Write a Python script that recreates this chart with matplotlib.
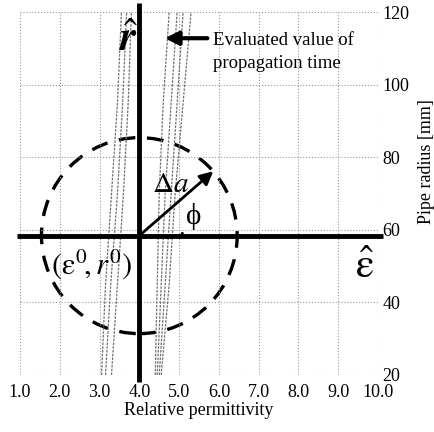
import numpy as np
import matplotlib
matplotlib.use('Agg')
import matplotlib.pyplot as plt
from matplotlib.patches import Ellipse, Arc

plt.rcParams['font.family'] = ['Liberation Serif', 'DejaVu Serif']
plt.rcParams['mathtext.fontset'] = 'stix'

# axis ticks
x_ticks = [1.0, 2.0, 3.0, 4.0, 5.0, 6.0, 7.0, 8.0, 9.0, 10.0]
y_ticks = [20, 40, 60, 80, 100, 120]

# contour lines of evaluated propagation time (eps at each radius)
r_pts = [20, 45, 70, 95, 120]
left_lines = [
    [3.05, 3.15, 3.30, 3.45, 3.55],
    [3.15, 3.28, 3.45, 3.58, 3.68],
    [3.30, 3.45, 3.60, 3.72, 3.80],
]
right_lines = [
    [4.40, 4.45, 4.50, 4.60, 4.75],
    [4.45, 4.55, 4.65, 4.80, 4.95],
    [4.50, 4.65, 4.80, 4.95, 5.10],
    [4.55, 4.75, 4.90, 5.10, 5.30],
]

# search circle
eps0, r0 = 4.0, 58.4
rad_eps, rad_r = 2.46, 27.0
phi_deg = 41

fig = plt.figure(figsize=(4.35, 4.32), dpi=100)
ax = fig.add_axes([0.046, 0.132, 0.823, 0.840])
ax.set_xlim(1, 10)
ax.set_ylim(20, 120)

for s in ax.spines.values():
    s.set_visible(False)
ax.set_xticks(x_ticks)
ax.set_xticklabels([f'{v:.1f}' for v in x_ticks])
ax.set_yticks(y_ticks)
ax.yaxis.tick_right()
ax.tick_params(length=0, labelsize=13)
ax.tick_params(axis='x', pad=6.5)
ax.tick_params(axis='y', pad=3)
ax.grid(True, ls=':', color='#999999', lw=0.8)

ax.set_xlabel('Relative permittivity', fontsize=13, labelpad=1)
ax.set_ylabel('Pipe radius [mm]', fontsize=13, rotation=90)
ax.yaxis.set_label_coords(1.16, 0.587)

for ln in left_lines + right_lines:
    ax.plot(ln, r_pts, ls=(0, (2, 1)), color='#707070', lw=0.9)

# thick axes through the centre
ax.plot([0.92, 10.12], [r0, r0], color='black', lw=3.5, clip_on=False, solid_capstyle='butt')
ax.plot([eps0, eps0], [18.0, 122.5], color='black', lw=3.5, clip_on=False, solid_capstyle='butt')

ax.add_patch(Ellipse((eps0, r0), 2 * rad_eps, 2 * rad_r, fill=False,
                     ls=(0, (5, 3.5)), lw=2.4, color='black'))
ax.add_patch(Arc((eps0, r0), 2 * 1.08, 2 * 11.8, theta1=0, theta2=phi_deg,
                 lw=2, color='black'))

tip = (eps0 + 1.03 * rad_eps * np.cos(np.radians(phi_deg)),
       r0 + 1.03 * rad_r * np.sin(np.radians(phi_deg)))
ax.annotate('', xy=tip, xytext=(eps0, r0),
            arrowprops=dict(arrowstyle='-|>', lw=2, color='black', mutation_scale=20))

ax.annotate('', xy=(4.57, 112.8), xytext=(5.78, 112.8),
            arrowprops=dict(arrowstyle='-|>', lw=3, color='black', mutation_scale=20))
ax.text(5.85, 109.0, 'Evaluated value of\npropagation time', fontsize=13.5,
        ha='left', va='center', linespacing=1.4)

ax.text(4.77, 72.3, r'$\Delta a$', fontsize=21, ha='center', va='center')
ax.text(5.37, 63.8, 'ϕ', fontsize=21, ha='center', va='center')
ax.text(2.81, 50.6, r'$(\mathrm{\varepsilon}^0\!,r^0)$', fontsize=22, ha='center', va='center')
ax.text(3.74, 112.0, r'$\hat{\mathbfit{r}}$', fontsize=30, ha='center', va='center')
ax.text(9.67, 49.5, r'$\hat{\mathrm{\varepsilon}}$', fontsize=30, ha='center', va='center')

fig.savefig('out.png', dpi=100)
